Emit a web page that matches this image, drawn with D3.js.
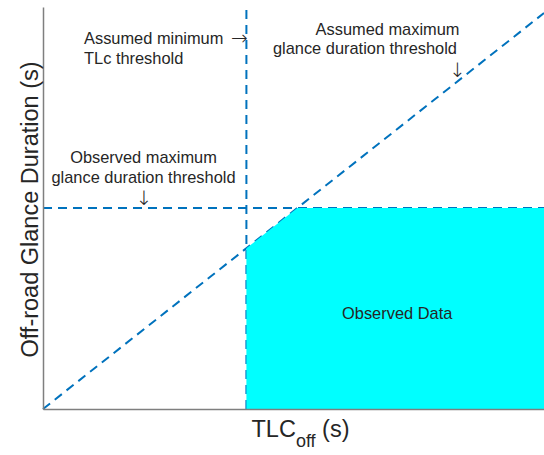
<!DOCTYPE html>
<html>
<head>
<meta charset="utf-8">
<script src="https://cdn.jsdelivr.net/npm/d3@7"></script>
<style>
  html, body { margin: 0; padding: 0; background: #fff; }
  svg { display: block; font-family: "Liberation Sans", Arial, Helvetica, sans-serif; }
</style>
</head>
<body>
<svg id="chart" width="544" height="455"></svg>
<script>
// Conceptual domain (no tick labels on this schematic)
const xDomain = [0, 10];          // TLC_off (s)
const yDomain = [0, 10];          // off-road glance duration (s)
const minTLC = 4.06;              // assumed minimum TLC threshold
const obsMaxGlance = 5.0;         // observed maximum glance duration threshold
const assumedSlope = 0.985;       // assumed maximum glance duration = slope * TLC

const annotations = [
  { lines: ["Assumed minimum", "TLc threshold"], anchor: "start" },
  { lines: ["Observed maximum", "glance duration threshold"], anchor: "middle" },
  { lines: ["Assumed maximum", "glance duration threshold"], anchor: "end" }
];

const svg = d3.select("#chart");
const margin = { left: 43, right: 0, top: 7, bottom: 46 };
const W = 544, H = 455;

const x = d3.scaleLinear().domain(xDomain).range([margin.left, W - margin.right]);
const y = d3.scaleLinear().domain(yDomain).range([H - margin.bottom, margin.top]);

const blue = "#0072BD";
const dash = "9,6";

// Region of observed data: right of min TLC, below both glance thresholds
const cornerX = obsMaxGlance / assumedSlope;
const region = [
  [minTLC, 0],
  [minTLC, assumedSlope * minTLC],
  [cornerX, obsMaxGlance],
  [xDomain[1], obsMaxGlance],
  [xDomain[1], 0]
];

const lineGen = d3.line().x(d => x(d[0])).y(d => y(d[1]));

// Threshold lines
const g = svg.append("g");
g.append("path")
  .attr("d", lineGen([[xDomain[0], obsMaxGlance], [xDomain[1], obsMaxGlance]]))
  .attr("stroke", blue).attr("stroke-width", 2).attr("stroke-dasharray", dash).attr("fill", "none");
g.append("path")
  .attr("d", lineGen([[minTLC, yDomain[0]], [minTLC, yDomain[1]]]))
  .attr("stroke", blue).attr("stroke-width", 2).attr("stroke-dasharray", dash).attr("fill", "none");
g.append("path")
  .attr("d", lineGen([[0, 0], [xDomain[1], assumedSlope * xDomain[1]]]))
  .attr("stroke", blue).attr("stroke-width", 2).attr("stroke-dasharray", dash).attr("fill", "none");

// Observed data region
svg.append("path")
  .attr("d", lineGen(region) + "Z")
  .attr("fill", "#00FFFF")
  .attr("stroke", "none");

// Axes (lines only, no ticks)
const xAxis = d3.axisBottom(x).tickValues([]).tickSizeOuter(0);
const yAxis = d3.axisLeft(y).tickValues([]).tickSizeOuter(0);
svg.append("g").attr("transform", `translate(0,${y(0)})`).call(xAxis)
  .select(".domain").attr("stroke", "#7f7f7f").attr("stroke-width", 1.5);
svg.append("g").attr("transform", `translate(${x(0)},0)`).call(yAxis)
  .select(".domain").attr("stroke", "#7f7f7f").attr("stroke-width", 1.5);

// Axis titles
svg.append("text")
  .attr("transform", "translate(38,209.5) rotate(-90)")
  .attr("text-anchor", "middle")
  .attr("font-size", 23.5)
  .attr("fill", "#262626")
  .text("Off-road Glance Duration (s)");

const xt = svg.append("text")
  .attr("x", 251.5).attr("y", 437)
  .attr("font-size", 23.5)
  .attr("fill", "#262626");
xt.append("tspan").text("TLC");
xt.append("tspan").attr("font-size", 18).attr("dy", 10).text("off");
xt.append("tspan").attr("dy", -10).text(" (s)");

// Annotations
const annPos = [
  { x: 84, y: 44, arrow: "→", ax: 231, ay: 45 },
  { x: 143.5, y: 163, arrow: "↓", ax: 144, ay: 205 },
  { x: 459.5, y: 34.5, arrow: "↓", ax: 457.3, ay: 77 }
];
annotations.forEach((a, i) => {
  const p = annPos[i];
  const t = svg.append("text")
    .attr("font-size", 16.4).attr("fill", "#262626")
    .attr("text-anchor", a.anchor);
  a.lines.forEach((s, j) => {
    t.append("tspan").attr("x", j === 1 && i === 2 ? p.x - 2.5 : p.x).attr("y", p.y + j * 19.8).text(s);
  });
  svg.append("text")
    .attr("x", p.ax).attr("y", p.ay)
    .attr("font-family", "'DejaVu Sans', sans-serif")
    .attr("font-weight", 200)
    .attr("font-size", 20).attr("fill", "#262626")
    .attr("text-anchor", p.arrow === "→" ? "start" : "middle")
    .text(p.arrow);
});

// Label inside the region
svg.append("text")
  .attr("x", x((minTLC + xDomain[1]) / 2) + 2).attr("y", 319)
  .attr("text-anchor", "middle")
  .attr("font-size", 16.4).attr("fill", "#262626")
  .text("Observed Data");
</script>
</body>
</html>
